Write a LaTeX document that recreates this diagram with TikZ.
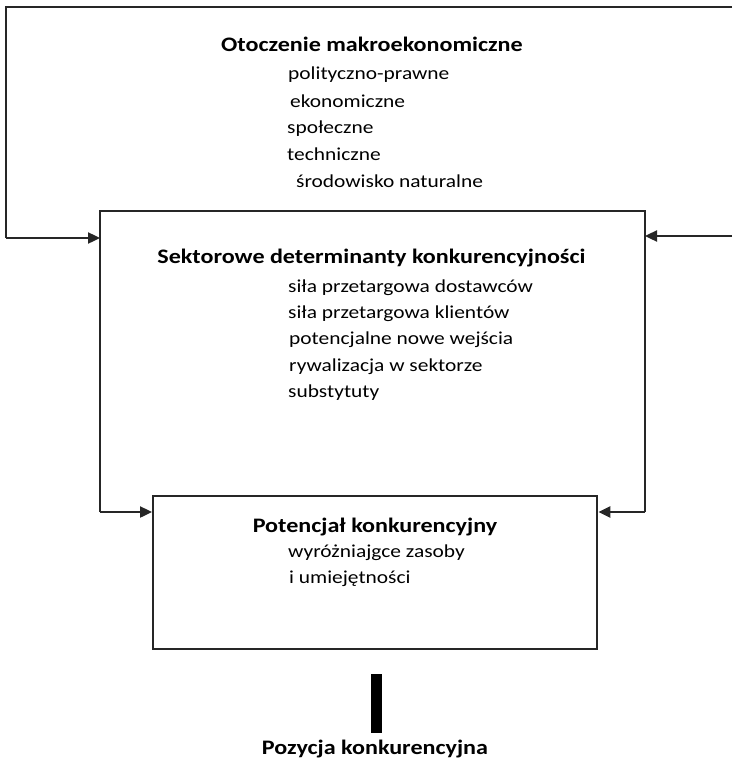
\documentclass[tikz,border=0pt]{standalone}
\usepackage{fontspec}
\setmainfont{Carlito}[FakeStretch=1.17]
\usetikzlibrary{arrows.meta}
\begin{document}
\begin{tikzpicture}[x=1pt,y=-1pt,
  frame/.style={line width=2.4pt, draw=black!85},
  arr/.style={frame, -{Triangle[length=12pt,width=11pt]}},
  head/.style={font=\fontsize{20.6}{22}\selectfont\bfseries, anchor=base, inner sep=0pt},
  item/.style={font=\fontsize{18.3}{20}\selectfont, anchor=base west, inner sep=0pt}]
\useasboundingbox (0,0) rectangle (732,760);

% outer environment frame (open on the right)
\coordinate (oTR) at (732,7);
\coordinate (oL) at (6,238);
\coordinate (oR) at (732,236);

% sector frame (open at the bottom)
\coordinate (sTL) at (100,211);
\coordinate (sTR) at (645,211);
\coordinate (sBL) at (100,512);
\coordinate (sBR) at (645,512);

% competitive potential box
\node[frame, draw, minimum width=444pt, minimum height=153pt, anchor=north west, inner sep=0pt]
  (pot) at (152,495) {};

% macro-environment
\node[head] (macro) at (372,52) {Otoczenie makroekonomiczne};
\node[item] (m1) at (288,80) {polityczno-prawne};
\node[item] (m2) at (290,107) {ekonomiczne};
\node[item] (m3) at (287,133) {społeczne};
\node[item] (m4) at (287,160) {techniczne};
\node[item] (m5) at (296,187) {środowisko naturalne};

% sector determinants
\node[head] (sector) at (371.5,263) {Sektorowe determinanty konkurencyjności};
\node[item] (s1) at (288,292) {siła przetargowa dostawców};
\node[item] (s2) at (288,318) {siła przetargowa klientów};
\node[item] (s3) at (289,344) {potencjalne nowe wejścia};
\node[item] (s4) at (289,371) {rywalizacja w sektorze};
\node[item] (s5) at (288,397) {substytuty};

% competitive potential
\node[head] (potT) at (375,532) {Potencjał konkurencyjny};
\node[item] (p1) at (288,557) {wyróżniajgce zasoby};
\node[item] (p2) at (289,583) {i umiejętności};

% competitive position
\node[fill=black, minimum width=11pt, minimum height=59pt, inner sep=0pt] (bar) at (376.5,703.5) {};
\node[head] (pos) at (375,754) {Pozycja konkurencyjna};

% connectors
\draw[frame] (oTR) -| (oL);
\draw[arr] (oL) -- (sTL |- oL);
\draw[arr] (oR) -- (sTR |- oR);
\draw[frame] (sBL) |- (sTR) -- (sBR);
\draw[arr] (sBL) -- (pot.west |- sBL);
\draw[arr] (sBR) -- (pot.east |- sBR);
\end{tikzpicture}
\end{document}
